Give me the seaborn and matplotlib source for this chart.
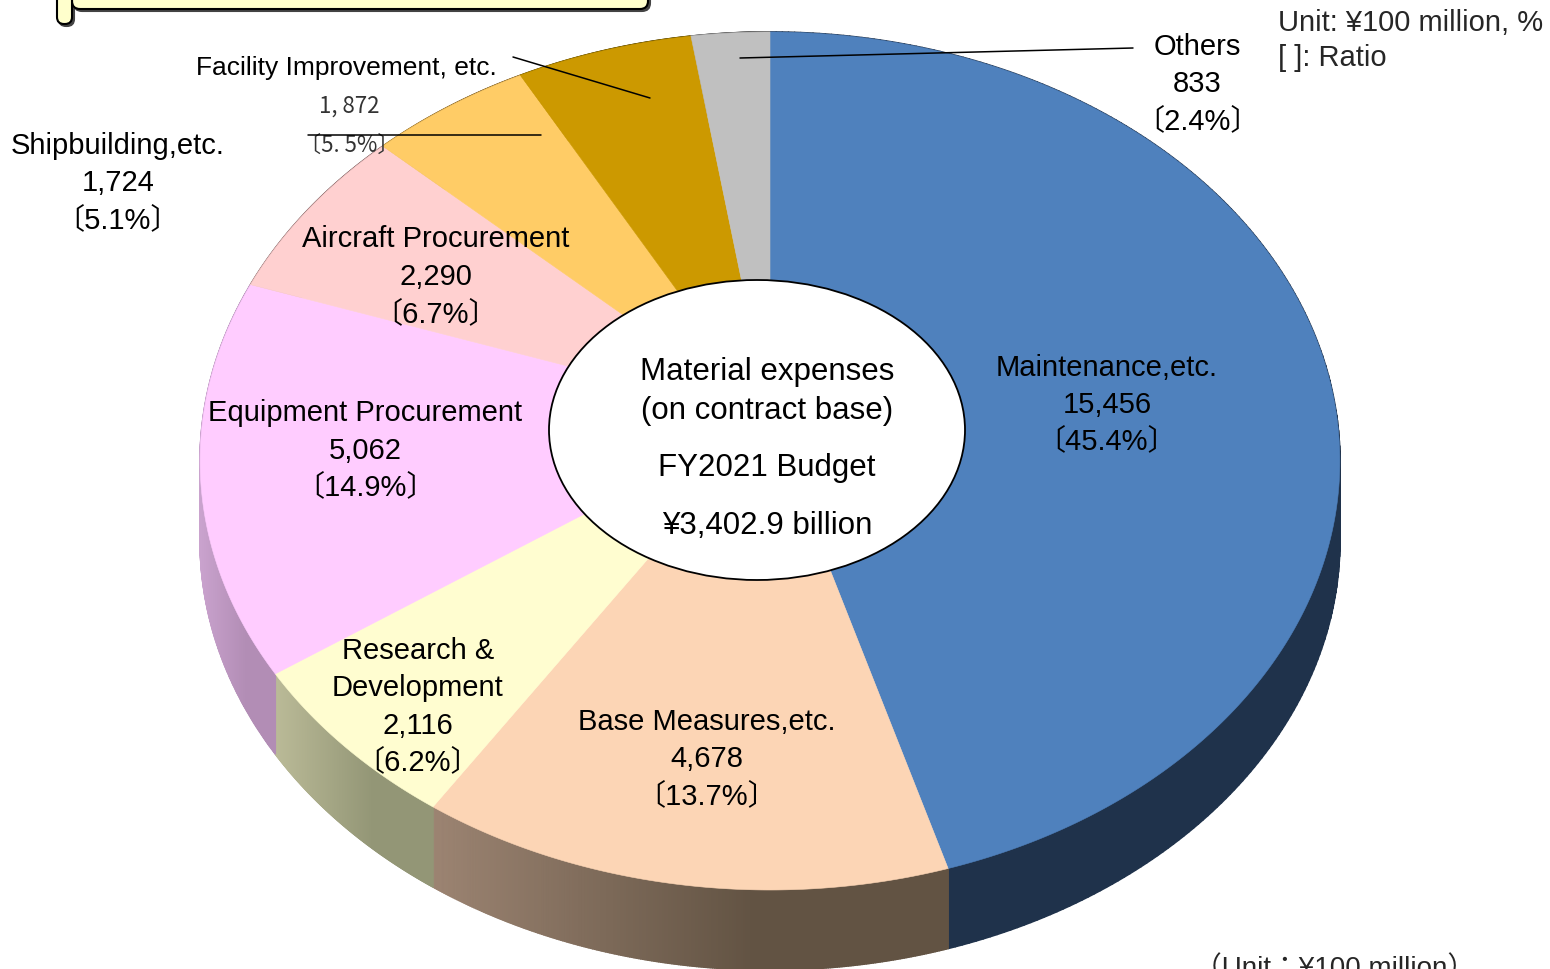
import matplotlib
matplotlib.use("Agg")
import numpy as np
import matplotlib.pyplot as plt
import seaborn as sns
from matplotlib.patches import Ellipse, FancyBboxPatch, Polygon
from matplotlib.collections import PolyCollection
from matplotlib.colors import to_rgb
from matplotlib.transforms import IdentityTransform
from matplotlib.lines import Line2D

# ---------------- data ----------------
categories = ["Maintenance,etc.", "Base Measures,etc.", "Research &\nDevelopment",
              "Equipment Procurement", "Aircraft Procurement", "Shipbuilding,etc.",
              "Facility Improvement, etc.", "Others"]
values = [15456, 4678, 2116, 5062, 2290, 1724, 1872, 833]
ratios = [45.4, 13.7, 6.2, 14.9, 6.7, 5.1, 5.5, 2.4]
center_lines = ["Material expenses", "(on contract base)", "FY2021 Budget", "¥3,402.9 billion"]

top_colors = ["#4F81BD", "#FCD5B5", "#FFFDD0", "#FFCCFF", "#FFD0D0", "#FFCC66", "#CC9900", "#C0C0C0"]
side_light = ["#1F324B", "#9C8472", "#BBBB98", "#CAA3CE", "#B09090", "#B08A40", "#8A6A00", "#808080"]
side_dark = ["#1F324B", "#625343", "#939676", "#B28DB5", "#907070", "#8A6A30", "#6A5200", "#606060"]

sns.set_theme(style="white")
plt.rcParams['font.family'] = ['Liberation Sans', 'Noto Sans CJK JP', 'DejaVu Sans']

W, H = 1550, 969
fig = plt.figure(figsize=(W / 100, H / 100), dpi=100)
ax = fig.add_axes([0, 0, 1, 1])

# perspective projection of the unit pie disc onto the picture (pixel coords, y down)
PX, PY, A, B, K = 770, 418, 567, 424.7, 0.1002
DEPTH = 80


def proj(u, v):
    den = 1 + K * v
    return PX + A * u / den, PY - B * v / den


wedges, _ = ax.pie(values, colors=top_colors, startangle=90, counterclock=False,
                   radius=1, wedgeprops=dict(linewidth=0))

tops = []
sides = []
for i, w in enumerate(wedges):
    cx, cy = w.center
    th = np.deg2rad(np.linspace(w.theta1, w.theta2, 240))
    u = cx + w.r * np.cos(th)
    v = cy + w.r * np.sin(th)
    X, Y = proj(u, v)
    c0 = proj(cx, cy)
    tops.append((np.vstack([[c0[0], c0[1]], np.column_stack([X, Y])]), w.get_facecolor()))
    # side strip with horizontal shading
    lo, hi = X.min(), X.max()
    t = np.clip((0.5 * (X[:-1] + X[1:]) - lo) / max(hi - lo, 1) * 1.6, 0, 1)
    cl, cd = np.array(to_rgb(side_light[i])), np.array(to_rgb(side_dark[i]))
    quads, cols = [], []
    for j in range(len(X) - 1):
        quads.append([(X[j], Y[j]), (X[j + 1], Y[j + 1]),
                      (X[j + 1], Y[j + 1] + DEPTH), (X[j], Y[j] + DEPTH)])
        cols.append(cl * (1 - t[j]) + cd * t[j])
    outline = np.vstack([np.column_stack([X, Y]), np.column_stack([X, Y + DEPTH])[::-1]])
    sides.append((outline, quads, cols, 0.5 * (cl + cd)))
    w.remove()

for outline, quads, cols, mid in sides:
    ax.add_patch(Polygon(outline, closed=True, facecolor=mid, edgecolor='none', zorder=1))
    ax.add_collection(PolyCollection(quads, facecolors=cols, edgecolors=cols,
                                     linewidths=1.2, zorder=1.5))
for poly, fc in tops:
    ax.add_patch(Polygon(poly, closed=True, facecolor=fc, edgecolor=fc,
                         linewidth=0.4, zorder=2))

ax.set_aspect('auto')
ax.set_xlim(0, W)
ax.set_ylim(H, 0)
ax.axis('off')

# central hole
ax.add_patch(Ellipse((757, 430), 416, 300, facecolor='white', edgecolor='black',
                     linewidth=1.3, zorder=5))


def fx(x):
    return x / W


def fy(y):
    return 1 - y / H


def put(x, y, s, size=21, **kw):
    fig.text(fx(x), fy(y), s, ha='center', va='center', fontsize=size, color='black', **kw)


# center text
for (yy, s) in zip([372, 411, 468, 526], center_lines):
    put(767, yy, s, size=22.5, zorder=10)


def label_block(x, ys, name_lines, i, size=21):
    lines = list(name_lines) + [f"{values[i]:,}", f"〔{ratios[i]}%〕"]
    for yy, s in zip(ys, lines):
        put(x, yy, s, size=size)


label_block(1107, [368, 405, 441], ["Maintenance,etc."], 0)
label_block(707, [722, 759, 796], ["Base Measures,etc."], 1)
label_block(418, [651, 688, 726, 762], categories[2].split("\n"), 2)
label_block(365, [413, 451, 487], ["Equipment Procurement"], 3)
label_block(436, [239, 277, 314], ["Aircraft Procurement"], 4)
label_block(118, [146, 183, 220], ["Shipbuilding,etc."], 5)
label_block(1197, [47, 84, 121], ["Others"], 7)

# facility label (different styling)
put(346, 68, categories[6], size=19)
fig.text(fx(349), fy(106), f"{values[6]:,}".replace(",", ", "), ha='center', va='center',
         fontsize=16, color='#333333', family=['Noto Sans CJK JP'])
fig.text(fx(349), fy(145), f"〔{ratios[6]}%〕".replace(".", ". "), ha='center', va='center',
         fontsize=16, color='#333333', family=['Noto Sans CJK JP'])

# unit notes
fig.text(fx(1278), fy(23), "Unit: ¥100 million, %", ha='left', va='center', fontsize=21)
fig.text(fx(1278), fy(58), "[ ]: Ratio", ha='left', va='center', fontsize=21)
fig.text(fx(1335), fy(969), "（Unit：¥100 million）", ha='center', va='center', fontsize=20)

# leader lines
for (x0, y0, x1, y1) in [(740, 58, 1133, 48), (513, 57, 650, 98), (308, 135, 541, 135)]:
    fig.add_artist(Line2D([fx(x0), fx(x1)], [fy(y0), fy(y1)], color='black', linewidth=1.1,
                          transform=fig.transFigure, zorder=6))

# decorative scroll box at top-left
it = IdentityTransform()
for dx, dy, fc, ec in [(2, -2, '#444444', '#444444'), (0, 0, '#FFFFCC', 'black')]:
    fig.add_artist(FancyBboxPatch((72 + dx, H - 9 + dy), 576, 40,
                                  boxstyle="round,pad=0,rounding_size=8",
                                  facecolor=fc, edgecolor=ec, linewidth=1.5, transform=it))
    fig.add_artist(FancyBboxPatch((57 + dx, H - 24 + dy), 15, 40,
                                  boxstyle="round,pad=0,rounding_size=7",
                                  facecolor=fc, edgecolor=ec, linewidth=1.5, transform=it))

fig.savefig("out.png", dpi=100)
